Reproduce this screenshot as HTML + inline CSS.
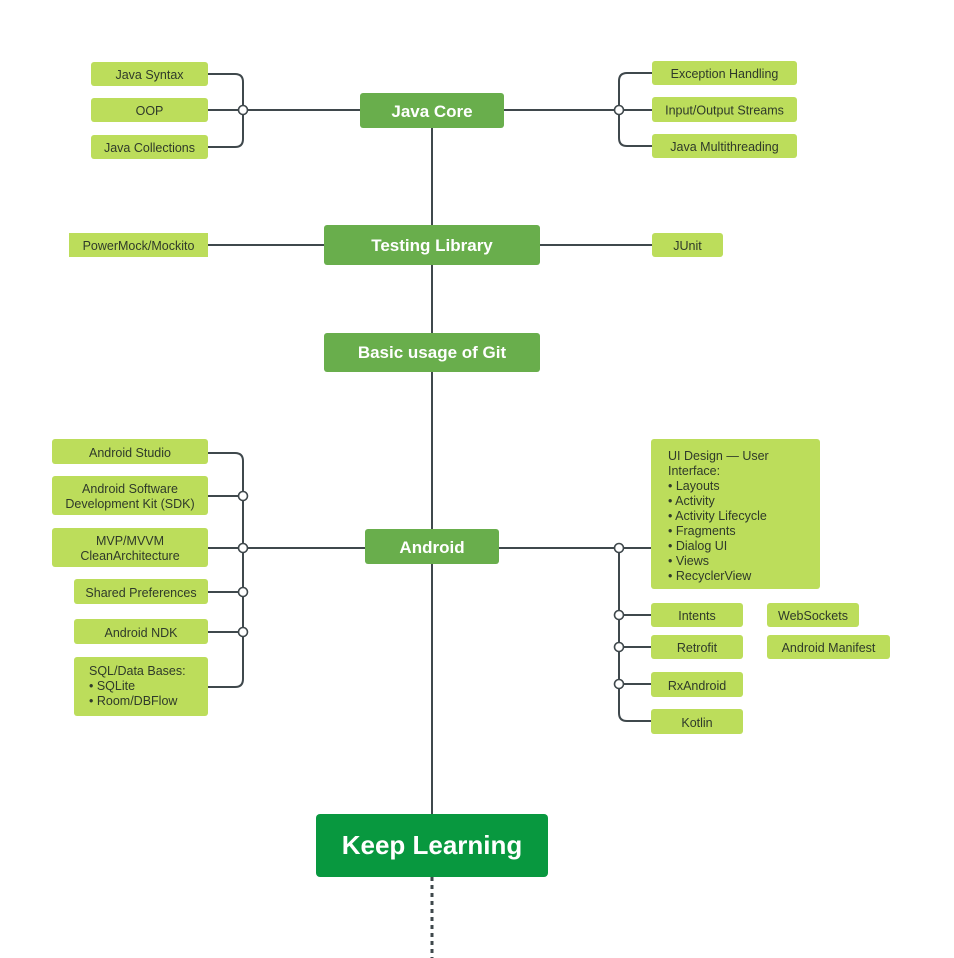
<!DOCTYPE html>
<html><head><meta charset="utf-8"><style>
html,body{margin:0;padding:0;background:#fff;}
svg{display:block;}
.l{fill:#bcdd5b;}
.d{fill:#69ae4c;}
.t{font-family:"Liberation Sans",sans-serif;font-size:12.5px;fill:#2f3a2a;}
.b{font-family:"Liberation Sans",sans-serif;font-weight:bold;fill:#fff;}
.ln{stroke:#3f484c;stroke-width:2;fill:none;}
.c{fill:#fff;stroke:#3f484c;stroke-width:1.6;}
</style></head><body>
<svg width="954" height="958" viewBox="0 0 954 958" xmlns="http://www.w3.org/2000/svg">
<line class="ln" x1="432" y1="128" x2="432" y2="814" stroke-width="3"/>
<line x1="432" y1="877" x2="432" y2="958" stroke="#3f484c" stroke-width="3" stroke-dasharray="4,4"/>

<path class="ln" d="M208 74 H235 Q243 74 243 82 V139 Q243 147 235 147 H208"/>
<line class="ln" x1="208" y1="110" x2="360" y2="110"/>
<circle class="c" cx="243" cy="110" r="4.5"/>
<path class="ln" d="M652 73 H627 Q619 73 619 81 V138 Q619 146 627 146 H652"/>
<line class="ln" x1="504" y1="110" x2="652" y2="110"/>
<circle class="c" cx="619" cy="110" r="4.5"/>

<line class="ln" x1="208" y1="245" x2="324" y2="245"/>
<line class="ln" x1="540" y1="245" x2="652" y2="245"/>

<path class="ln" d="M208 453 H235 Q243 453 243 461 V679 Q243 687 235 687 H208"/>
<line class="ln" x1="208" y1="496" x2="243" y2="496"/>
<line class="ln" x1="208" y1="548" x2="365" y2="548"/>
<line class="ln" x1="208" y1="592" x2="243" y2="592"/>
<line class="ln" x1="208" y1="632" x2="243" y2="632"/>
<circle class="c" cx="243" cy="496" r="4.5"/>
<circle class="c" cx="243" cy="548" r="4.5"/>
<circle class="c" cx="243" cy="592" r="4.5"/>
<circle class="c" cx="243" cy="632" r="4.5"/>

<line class="ln" x1="499" y1="548" x2="651" y2="548"/>
<path class="ln" d="M619 548 V713 Q619 721 627 721 H651"/>
<line class="ln" x1="619" y1="615" x2="651" y2="615"/>
<line class="ln" x1="619" y1="647" x2="651" y2="647"/>
<line class="ln" x1="619" y1="684" x2="651" y2="684"/>
<circle class="c" cx="619" cy="548" r="4.5"/>
<circle class="c" cx="619" cy="615" r="4.5"/>
<circle class="c" cx="619" cy="647" r="4.5"/>
<circle class="c" cx="619" cy="684" r="4.5"/>

<rect class="d" x="360" y="93" width="144" height="35" rx="3"/>
<text class="b" x="432" y="117" font-size="17" text-anchor="middle">Java Core</text>
<rect class="l" x="91" y="62" width="117" height="24" rx="3"/>
<text class="t" x="149.5" y="79" text-anchor="middle">Java Syntax</text>
<rect class="l" x="91" y="98" width="117" height="24" rx="3"/>
<text class="t" x="149.5" y="115" text-anchor="middle">OOP</text>
<rect class="l" x="91" y="135" width="117" height="24" rx="3"/>
<text class="t" x="149.5" y="152" text-anchor="middle">Java Collections</text>
<rect class="l" x="652" y="61" width="145" height="24" rx="3"/>
<text class="t" x="724.5" y="78" text-anchor="middle">Exception Handling</text>
<rect class="l" x="652" y="97" width="145" height="25" rx="3"/>
<text class="t" x="724.5" y="114.5" text-anchor="middle">Input/Output Streams</text>
<rect class="l" x="652" y="134" width="145" height="24" rx="3"/>
<text class="t" x="724.5" y="151" text-anchor="middle">Java Multithreading</text>

<rect class="d" x="324" y="225" width="216" height="40" rx="3"/>
<text class="b" x="432" y="251" font-size="17" text-anchor="middle">Testing Library</text>
<rect class="l" x="69" y="233" width="139" height="24"/>
<text class="t" x="138.5" y="250" text-anchor="middle">PowerMock/Mockito</text>
<rect class="l" x="652" y="233" width="71" height="24" rx="3"/>
<text class="t" x="687.5" y="250" text-anchor="middle">JUnit</text>

<rect class="d" x="324" y="333" width="216" height="39" rx="3"/>
<text class="b" x="432" y="358" font-size="17" text-anchor="middle">Basic usage of Git</text>

<rect class="d" x="365" y="529" width="134" height="35" rx="3"/>
<text class="b" x="432" y="553" font-size="17" text-anchor="middle">Android</text>

<rect class="l" x="52" y="439" width="156" height="25" rx="3"/>
<text class="t" x="130" y="457" text-anchor="middle">Android Studio</text>
<rect class="l" x="52" y="476" width="156" height="39" rx="3"/>
<text class="t" x="130" y="493" text-anchor="middle">Android Software</text>
<text class="t" x="130" y="508" text-anchor="middle">Development Kit (SDK)</text>
<rect class="l" x="52" y="528" width="156" height="39" rx="3"/>
<text class="t" x="130" y="545" text-anchor="middle">MVP/MVVM</text>
<text class="t" x="130" y="560" text-anchor="middle">CleanArchitecture</text>
<rect class="l" x="74" y="579" width="134" height="25" rx="3"/>
<text class="t" x="141" y="597" text-anchor="middle">Shared Preferences</text>
<rect class="l" x="74" y="619" width="134" height="25" rx="3"/>
<text class="t" x="141" y="637" text-anchor="middle">Android NDK</text>
<rect class="l" x="74" y="657" width="134" height="59" rx="3"/>
<text class="t" x="89" y="675">SQL/Data Bases:</text>
<text class="t" x="89" y="690">• SQLite</text>
<text class="t" x="89" y="705">• Room/DBFlow</text>

<rect class="l" x="651" y="439" width="169" height="150" rx="3"/>
<text class="t" x="668" y="460">UI Design — User</text>
<text class="t" x="668" y="475">Interface:</text>
<text class="t" x="668" y="490">• Layouts</text>
<text class="t" x="668" y="505">• Activity</text>
<text class="t" x="668" y="520">• Activity Lifecycle</text>
<text class="t" x="668" y="535">• Fragments</text>
<text class="t" x="668" y="550">• Dialog UI</text>
<text class="t" x="668" y="565">• Views</text>
<text class="t" x="668" y="580">• RecyclerView</text>

<rect class="l" x="651" y="603" width="92" height="24" rx="3"/>
<text class="t" x="697" y="620" text-anchor="middle">Intents</text>
<rect class="l" x="767" y="603" width="92" height="24" rx="3"/>
<text class="t" x="813" y="620" text-anchor="middle">WebSockets</text>
<rect class="l" x="651" y="635" width="92" height="24" rx="3"/>
<text class="t" x="697" y="652" text-anchor="middle">Retrofit</text>
<rect class="l" x="767" y="635" width="123" height="24" rx="3"/>
<text class="t" x="828.5" y="652" text-anchor="middle">Android Manifest</text>
<rect class="l" x="651" y="672" width="92" height="25" rx="3"/>
<text class="t" x="697" y="690" text-anchor="middle">RxAndroid</text>
<rect class="l" x="651" y="709" width="92" height="25" rx="3"/>
<text class="t" x="697" y="727" text-anchor="middle">Kotlin</text>

<rect x="316" y="814" width="232" height="63" rx="4" fill="#08983f"/>
<text class="b" x="432" y="854" font-size="26" text-anchor="middle">Keep Learning</text>
</svg>
</body></html>
